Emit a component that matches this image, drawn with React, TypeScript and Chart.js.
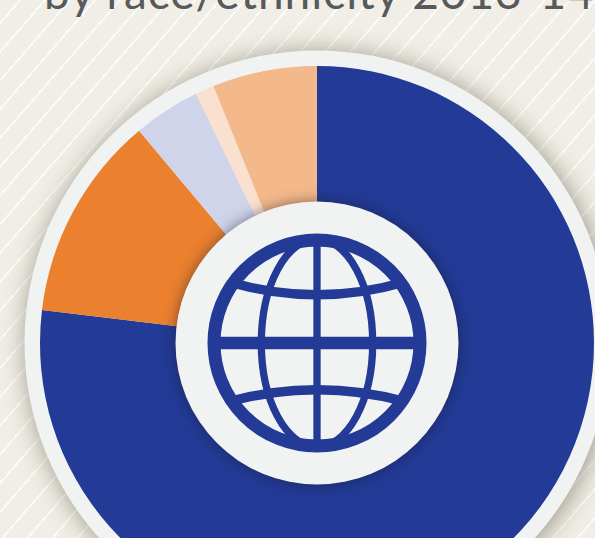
import React, { useEffect, useRef } from "react";
import { Chart, registerables } from "chart.js";

Chart.register(...registerables);

const categories = ["Group A", "Group B", "Group C", "Group D", "Group E"];
const shares = [76.9, 12.0, 3.9, 1.1, 6.1];
const sliceColors = ["#233b96", "#eb812f", "#cfd4ea", "#fae0cf", "#f4b98a"];
const titleHead = "by race/ethnicity 2013";
const titleTail = "–14";

const ringPlugin = {
  id: "ringAndGlobe",
  beforeDatasetsDraw(chart: any) {
    const meta = chart.getDatasetMeta(0).data[0];
    const { x, y, outerRadius } = meta;
    const ctx = chart.ctx;
    ctx.save();
    ctx.shadowColor = "rgba(70,62,40,0.5)";
    ctx.shadowBlur = 24;
    ctx.shadowOffsetX = 2;
    ctx.shadowOffsetY = 2;
    ctx.fillStyle = "#f1f3f3";
    ctx.beginPath();
    ctx.arc(x, y, outerRadius + 15.5, 0, Math.PI * 2);
    ctx.fill();
    ctx.restore();
  },
  afterDatasetsDraw(chart: any) {
    const meta = chart.getDatasetMeta(0).data[0];
    const { x, y } = meta;
    const ctx = chart.ctx;
    const navy = sliceColors[0];
    ctx.save();
    ctx.shadowColor = "rgba(20,20,40,0.5)";
    ctx.shadowBlur = 14;
    ctx.fillStyle = "#f1f3f3";
    ctx.beginPath();
    ctx.arc(x, y, 141.5, 0, Math.PI * 2);
    ctx.fill();
    ctx.restore();

    ctx.save();
    ctx.translate(x, y);
    ctx.strokeStyle = navy;
    ctx.save();
    ctx.beginPath();
    ctx.arc(0, 0, 103, 0, Math.PI * 2);
    ctx.clip();
    ctx.lineWidth = 7.3;
    ctx.beginPath();
    ctx.moveTo(0, -105);
    ctx.lineTo(0, 105);
    ctx.stroke();
    ctx.beginPath();
    ctx.ellipse(0, 0, 55.7, 104, 0, 0, Math.PI * 2);
    ctx.stroke();
    ctx.lineWidth = 12.3;
    ctx.beginPath();
    ctx.moveTo(-105, 0);
    ctx.lineTo(105, 0);
    ctx.stroke();
    ctx.lineWidth = 9.5;
    ctx.beginPath();
    ctx.moveTo(-88, -61);
    ctx.quadraticCurveTo(0, -35.5, 88, -61);
    ctx.stroke();
    ctx.beginPath();
    ctx.moveTo(-88, 58.5);
    ctx.quadraticCurveTo(0, 34.9, 88, 58.5);
    ctx.stroke();
    ctx.restore();
    ctx.lineWidth = 13;
    ctx.beginPath();
    ctx.arc(0, 0, 103, 0, Math.PI * 2);
    ctx.stroke();
    ctx.restore();
  },
};

export default function App() {
  const ref = useRef<HTMLCanvasElement>(null);
  useEffect(() => {
    if (!ref.current) return;
    const chart = new Chart(ref.current, {
      type: "doughnut",
      data: {
        labels: categories,
        datasets: [
          {
            data: shares,
            backgroundColor: sliceColors,
            borderWidth: 0,
          },
        ],
      },
      options: {
        animation: false,
        responsive: false,
        radius: 277,
        cutout: 0,
        layout: { padding: 0 },
        plugins: { legend: { display: false }, tooltip: { enabled: false } },
      },
      plugins: [ringPlugin],
    } as any);
    return () => chart.destroy();
  }, []);
  return (
    <div
      style={{
        position: "fixed",
        left: 0,
        top: 0,
        width: 595,
        height: 538,
        overflow: "hidden",
        backgroundColor: "#f0eee6",
        backgroundImage:
          "repeating-linear-gradient(-49deg, transparent 0 12.3px, #fbfbf8 12.3px 14.1px, transparent 14.1px 18.87px)",
      }}
    >
      <div
        style={{
          position: "absolute",
          left: 44,
          top: -36,
          fontFamily: "Lato, sans-serif",
          fontSize: 46,
          lineHeight: "56px",
          color: "#58595b",
          whiteSpace: "nowrap",
          letterSpacing: 1,
        }}
      >
        {titleHead}
        <span style={{ letterSpacing: -10 }}>{titleTail[0]}</span>
        <span style={{ letterSpacing: 1 }}>{titleTail.slice(1)}</span>
      </div>
      <canvas
        ref={ref}
        width={680}
        height={680}
        style={{ position: "absolute", left: -23, top: 3, width: 680, height: 680 }}
      />
    </div>
  );
}
